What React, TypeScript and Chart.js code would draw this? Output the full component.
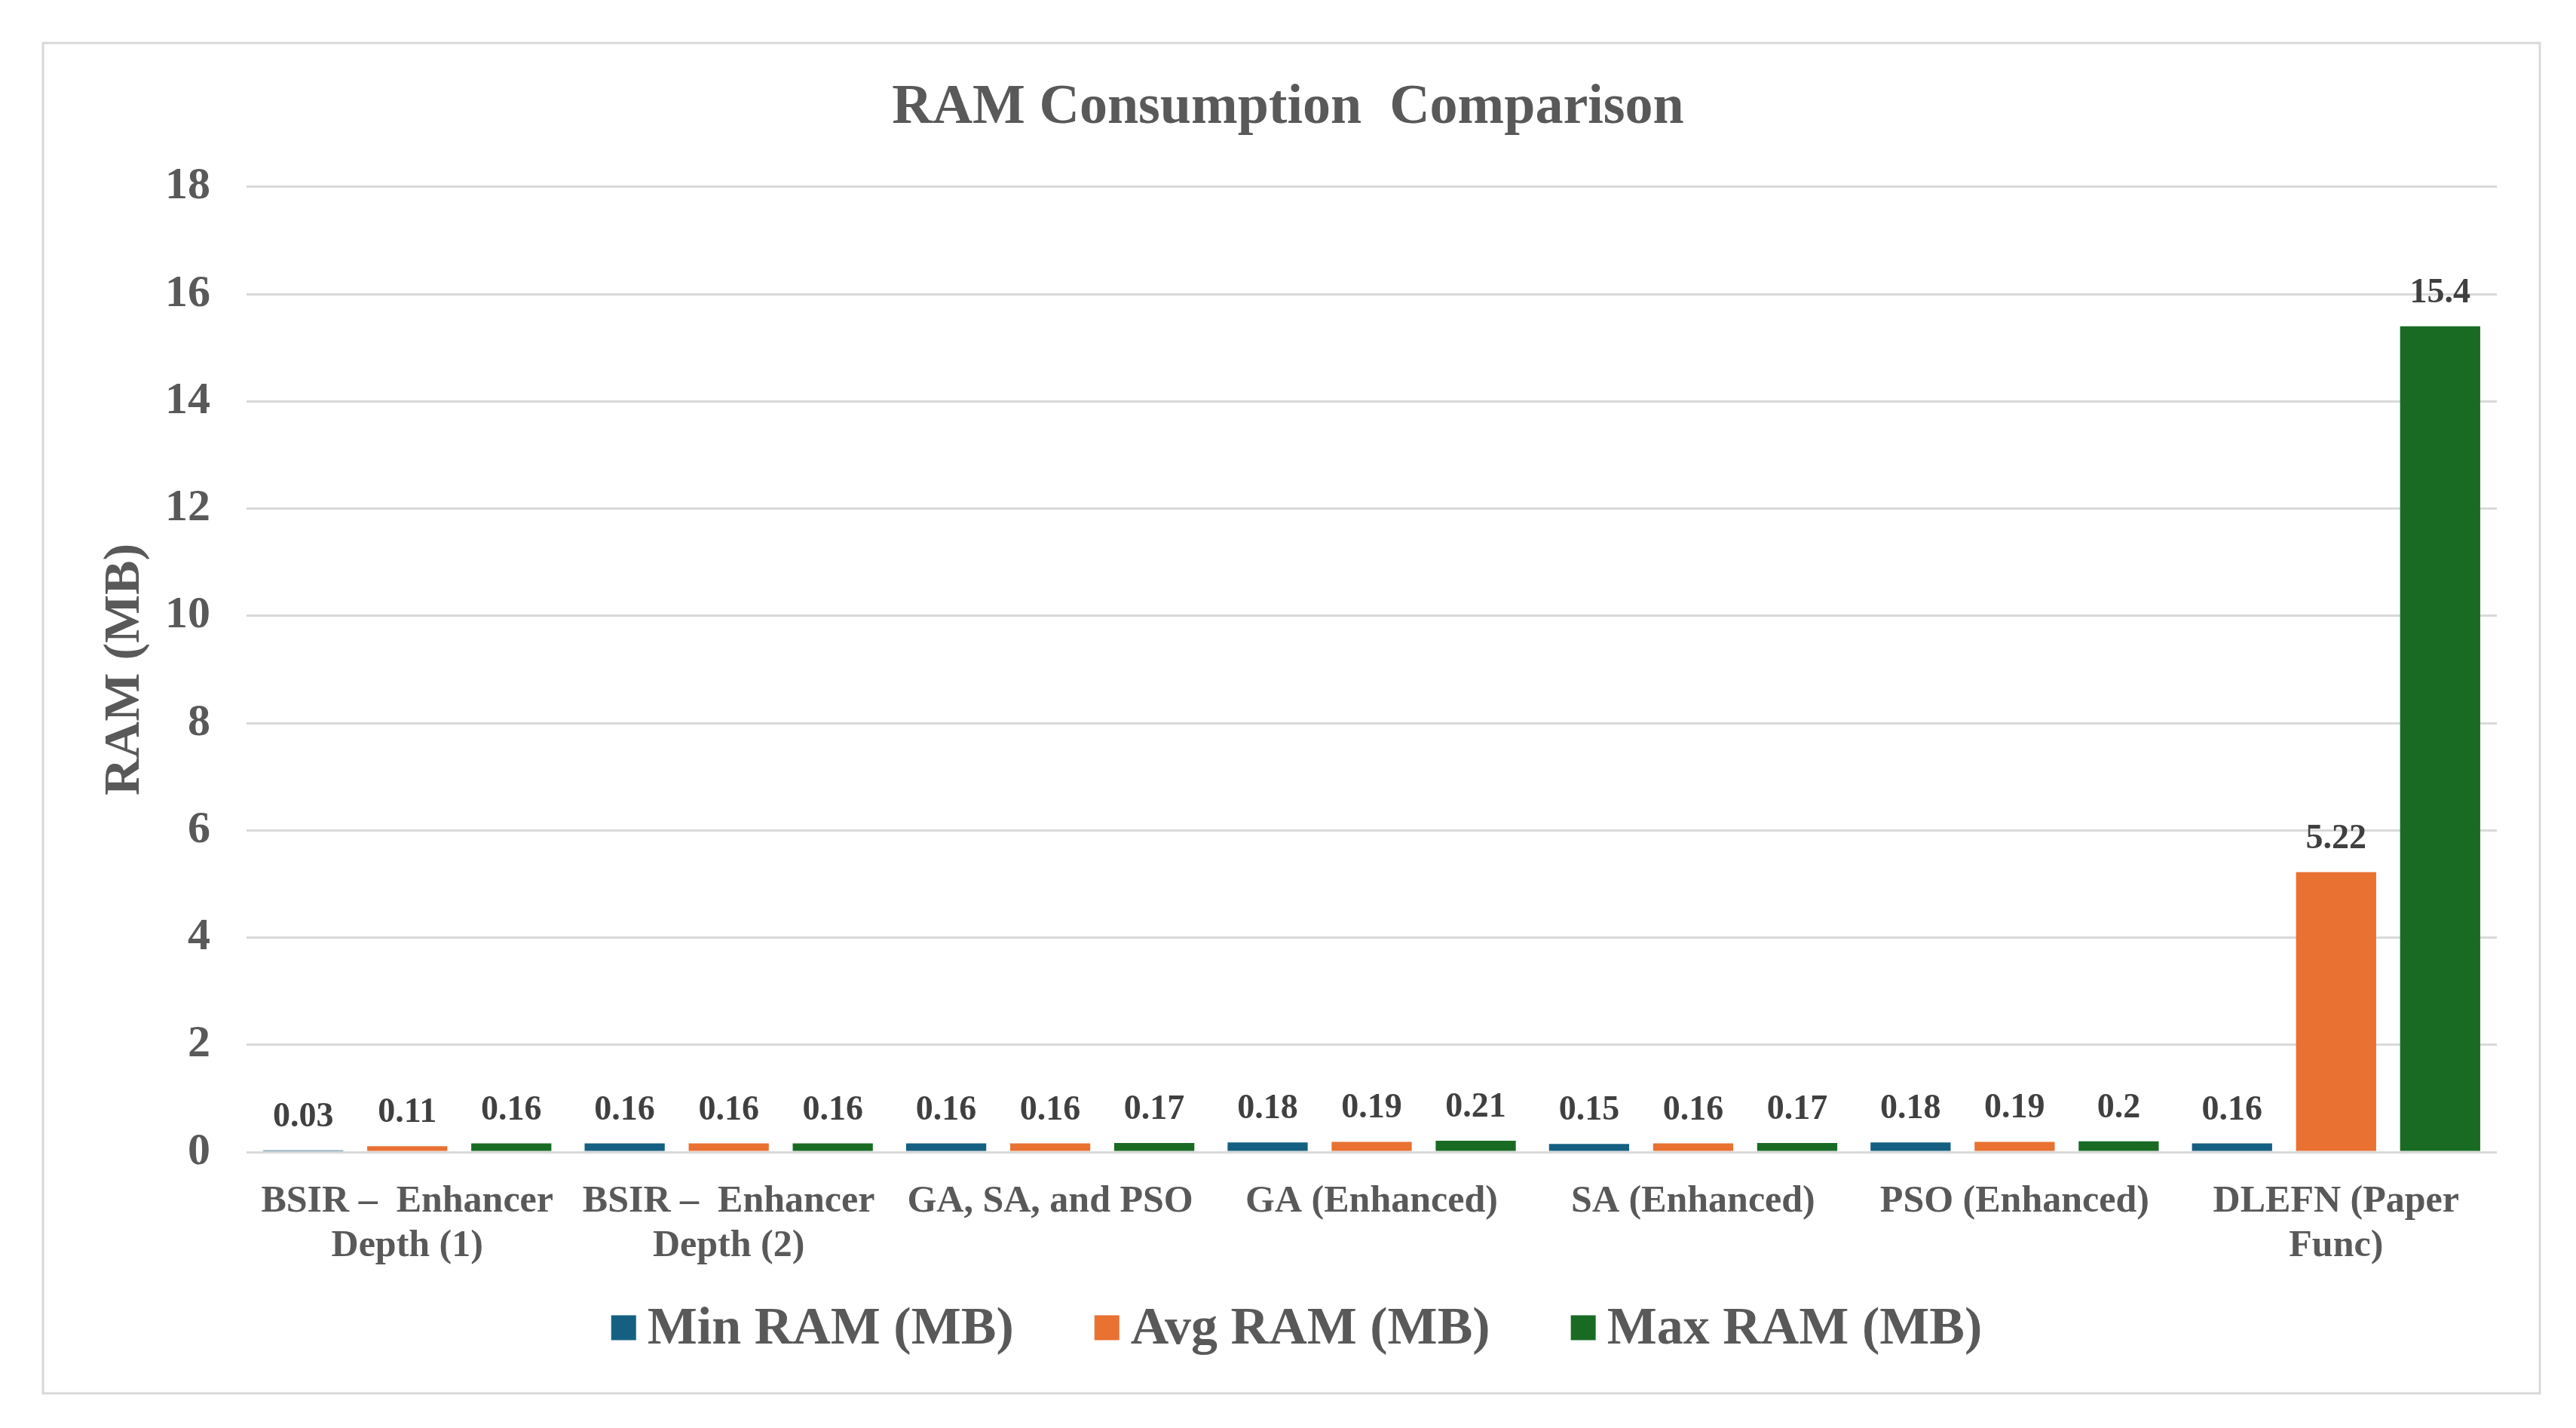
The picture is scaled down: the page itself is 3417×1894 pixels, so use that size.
import React, { useEffect, useRef } from "react";
import { Chart, registerables } from "chart.js";

Chart.register(...registerables);

const FONT = "'Liberation Serif', 'Times New Roman', Times, serif";

const categories: (string | string[])[] = [
  ["BSIR –  Enhancer", "Depth (1)"],
  ["BSIR –  Enhancer", "Depth (2)"],
  "GA, SA, and PSO",
  "GA (Enhanced)",
  "SA (Enhanced)",
  "PSO (Enhanced)",
  ["DLEFN (Paper", "Func)"],
];
const seriesNames = ["Min RAM (MB)", "Avg RAM (MB)", "Max RAM (MB)"];
const minRam = [0.03, 0.16, 0.16, 0.18, 0.15, 0.18, 0.16];
const avgRam = [0.11, 0.16, 0.16, 0.19, 0.16, 0.19, 5.22];
const maxRam = [0.16, 0.16, 0.17, 0.21, 0.17, 0.2, 15.4];
const seriesColors = ["#156082", "#E97132", "#196B24"];
const yMin = 0;
const yMax = 18;
const yStep = 2;
const chartTitle = "RAM Consumption  Comparison";
const yTitle = "RAM (MB)";

const W = 3417;
const H = 1894;

const framePlugin = {
  id: "frame",
  beforeDraw(chart: any) {
    const ctx = chart.ctx;
    ctx.save();
    ctx.fillStyle = "#ffffff";
    ctx.fillRect(0, 0, chart.width, chart.height);
    ctx.strokeStyle = "#d9d9d9";
    ctx.lineWidth = 3;
    ctx.strokeRect(57, 57, 3312, 1791);
    ctx.restore();
  },
};

const dataLabelPlugin = {
  id: "dataLabels",
  afterDatasetsDraw(chart: any) {
    const ctx = chart.ctx;
    ctx.save();
    ctx.font = `bold 46px ${FONT}`;
    ctx.fillStyle = "#404040";
    ctx.textAlign = "center";
    ctx.textBaseline = "alphabetic";
    chart.data.datasets.forEach((ds: any, i: number) => {
      const meta = chart.getDatasetMeta(i);
      meta.data.forEach((bar: any, j: number) => {
        const v = ds.data[j];
        ctx.fillText(String(v), bar.x, bar.y - 32);
      });
    });
    ctx.restore();
  },
};

const legendPlugin = {
  id: "customLegend",
  afterDraw(chart: any) {
    const ctx = chart.ctx;
    ctx.save();
    ctx.font = `bold 70px ${FONT}`;
    const box = 33;
    const gap = 15;
    const spacing = 107;
    const items = chart.data.datasets.map((ds: any) => ({
      text: ds.label as string,
      color: ds.backgroundColor as string,
      w: ctx.measureText(ds.label).width,
    }));
    const total =
      items.reduce((s: number, it: any) => s + box + gap + it.w, 0) +
      spacing * (items.length - 1);
    let x = 1720 - total / 2;
    const cy = 1761;
    items.forEach((it: any) => {
      ctx.fillStyle = it.color;
      ctx.fillRect(x, cy - box / 2, box, box);
      ctx.fillStyle = "#595959";
      ctx.textAlign = "left";
      ctx.textBaseline = "middle";
      ctx.fillText(it.text, x + box + gap, cy + 3);
      x += box + gap + it.w + spacing;
    });
    ctx.restore();
  },
};

export default function App() {
  const ref = useRef<HTMLCanvasElement | null>(null);

  useEffect(() => {
    if (!ref.current) return;
    const data = [minRam, avgRam, maxRam];
    const chart = new Chart(ref.current, {
      type: "bar",
      data: {
        labels: categories,
        datasets: seriesNames.map((name, i) => ({
          label: name,
          data: data[i],
          backgroundColor: seriesColors[i],
          borderWidth: 0,
          categoryPercentage: 0.971,
          barPercentage: 0.77,
        })),
      },
      options: {
        responsive: false,
        animation: false,
        devicePixelRatio: 1,
        layout: { padding: { top: 60, left: 105, right: 105, bottom: 206 } },
        plugins: {
          legend: { display: false },
          tooltip: { enabled: false },
          title: {
            display: true,
            text: chartTitle,
            color: "#595959",
            font: { family: FONT, size: 74, weight: "bold", lineHeight: 1.2 },
            padding: { top: 39, bottom: 60 },
          },
        },
        scales: {
          x: {
            grid: { display: false, drawTicks: false },
            border: { display: false },
            ticks: {
              color: "#595959",
              autoSkip: false,
              maxRotation: 0,
              minRotation: 0,
              padding: 37,
              font: { family: FONT, size: 50, weight: "bold", lineHeight: 1.18 },
            },
            afterFit: (s: any) => {
              s.height = 160;
            },
          },
          y: {
            min: yMin,
            max: yMax,
            ticks: {
              stepSize: yStep,
              padding: 48,
              color: "#595959",
              font: { family: FONT, size: 60, weight: "bold" },
            },
            grid: { color: "#d9d9d9", lineWidth: 3, drawTicks: false },
            border: { display: false },
            title: {
              display: true,
              text: yTitle,
              color: "#595959",
              font: { family: FONT, size: 68, weight: "bold", lineHeight: 1.2 },
              padding: { top: 20.2, bottom: 0 },
            },
            afterFit: (s: any) => {
              s.width = 222;
            },
          },
        },
      },
      plugins: [framePlugin, dataLabelPlugin, legendPlugin],
    });
    return () => chart.destroy();
  }, []);

  return (
    <div style={{ position: "fixed", left: 0, top: 0, width: W, height: H, background: "#fff" }}>
      <canvas ref={ref} width={W} height={H} style={{ width: W, height: H, display: "block" }} />
    </div>
  );
}
